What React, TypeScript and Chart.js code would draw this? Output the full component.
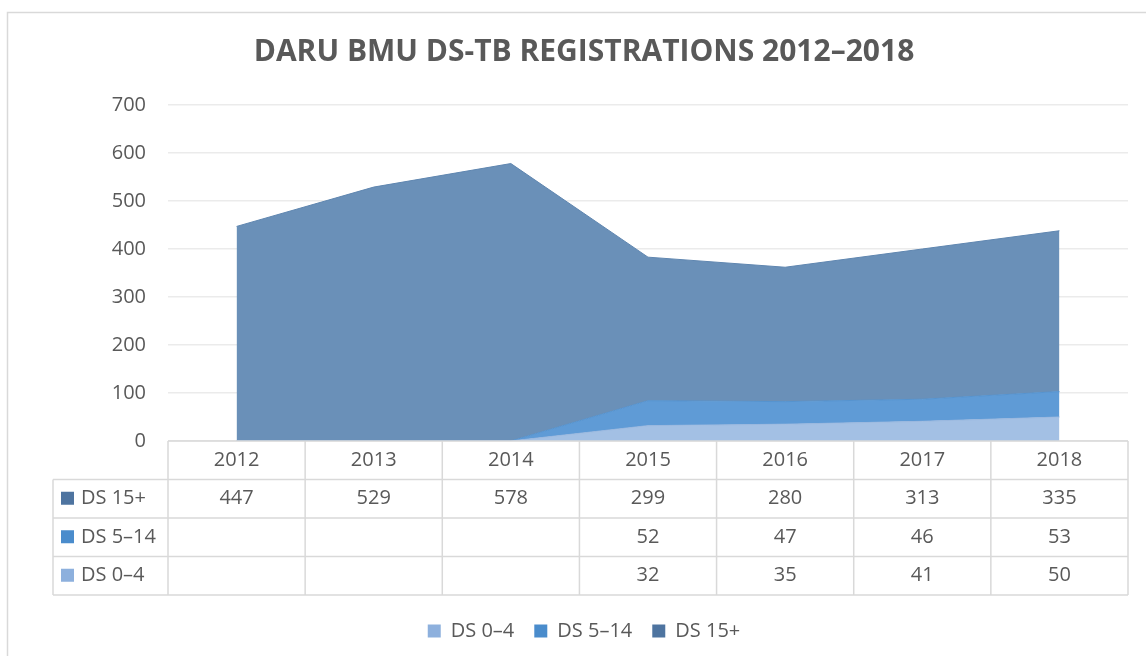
import React, { useEffect, useRef } from "react";
import { Chart, registerables } from "chart.js";

Chart.register(...registerables);

const FONT = "'Open Sans', sans-serif";
const TEXT = "#595959";

const categories = ["2012", "2013", "2014", "2015", "2016", "2017", "2018"];
const ds04: (number | null)[] = [null, null, null, 32, 35, 41, 50];
const ds514: (number | null)[] = [null, null, null, 52, 47, 46, 53];
const ds15: (number | null)[] = [447, 529, 578, 299, 280, 313, 335];
const seriesNames = ["DS 0–4", "DS 5–14", "DS 15+"];
const yMax = 700;
const yStep = 100;

const fillColors = ["#a3c0e4", "#5f9bd6", "#6a90b8"];
const borderColors = ["#9ab8df", "#5593cf", "#5f86b0"];
const keyColors = ["#8db0dd", "#4a8ccc", "#4e74a0"];

const PAD_LEFT = 40;
const PLOT_LEFT = 168;

const frameAndTable = {
  id: "frameAndTable",
  beforeDraw(chart: any) {
    const { ctx, width, height } = chart;
    ctx.save();
    ctx.fillStyle = "#ffffff";
    ctx.fillRect(0, 0, width, height);
    ctx.strokeStyle = "#d9d9d9";
    ctx.lineWidth = 1.5;
    ctx.strokeRect(7.5, 12.5, width + 20, height + 20);
    ctx.restore();
  },
  afterDraw(chart: any) {
    const { ctx, chartArea } = chart;
    const xs = chart.scales.x;
    const n = categories.length;
    const colW = (chartArea.right - chartArea.left) / n;
    const top = chartArea.bottom;
    const rowH = 38.5;
    const leftX = 53;
    const rows = [
      { name: seriesNames[2], data: ds15, key: keyColors[2] },
      { name: seriesNames[1], data: ds514, key: keyColors[1] },
      { name: seriesNames[0], data: ds04, key: keyColors[0] },
    ];
    const bottom = top + rowH * (rows.length + 1);
    ctx.save();
    ctx.strokeStyle = "#d9d9d9";
    ctx.lineWidth = 1.5;
    ctx.beginPath();
    for (let r = 0; r <= rows.length + 1; r++) {
      const y = top + r * rowH;
      ctx.moveTo(r === 0 ? chartArea.left : leftX, y);
      ctx.lineTo(chartArea.right, y);
    }
    for (let i = 0; i <= n; i++) {
      const x = i < n ? xs.getPixelForValue(i) - colW / 2 : xs.getPixelForValue(n - 1) + colW / 2;
      ctx.moveTo(x, top);
      ctx.lineTo(x, bottom);
    }
    ctx.moveTo(leftX, top + rowH);
    ctx.lineTo(leftX, bottom);
    ctx.stroke();

    ctx.fillStyle = TEXT;
    ctx.font = `20px ${FONT}`;
    ctx.textAlign = "center";
    ctx.textBaseline = "middle";
    categories.forEach((c, i) => {
      ctx.fillText(c, xs.getPixelForValue(i), top + rowH / 2);
    });
    rows.forEach((row, r) => {
      const cy = top + rowH * (r + 1) + rowH / 2;
      row.data.forEach((v, i) => {
        if (v !== null) {
          ctx.fillStyle = TEXT;
          ctx.textAlign = "center";
          ctx.fillText(String(v), xs.getPixelForValue(i), cy);
        }
      });
      ctx.fillStyle = row.key;
      ctx.fillRect(61, cy - 7, 13, 13);
      ctx.fillStyle = TEXT;
      ctx.textAlign = "left";
      ctx.fillText(row.name, 81, cy);
    });
    ctx.restore();
  },
};

export default function App() {
  const ref = useRef<HTMLCanvasElement | null>(null);
  useEffect(() => {
    if (!ref.current) return;
    const series = [ds04, ds514, ds15];
    const chart = new Chart(ref.current, {
      type: "line",
      data: {
        labels: categories,
        datasets: series.map((d, k) => ({
          label: seriesNames[k],
          data: d.map((v) => (v === null ? 0 : v)),
          backgroundColor: fillColors[k],
          borderColor: borderColors[k],
          borderWidth: 1,
          pointRadius: 0,
          tension: 0,
          fill: k === 0 ? "origin" : "-1",
        })),
      },
      options: {
        animation: false,
        responsive: true,
        maintainAspectRatio: false,
        layout: { padding: { left: PAD_LEFT, right: 18, top: 0, bottom: 5 } },
        plugins: {
          title: {
            display: true,
            text: "DARU BMU DS-TB REGISTRATIONS 2012–2018",
            color: TEXT,
            font: { size: 30, weight: "bold", family: FONT },
            padding: { top: 34, bottom: 35 },
          },
          legend: {
            position: "bottom",
            labels: {
              color: TEXT,
              boxWidth: 13,
              boxHeight: 13,
              padding: 20,
              font: { size: 20, family: FONT },
              generateLabels: (chart: any) =>
                chart.data.datasets.map((ds: any, i: number) => ({
                  text: ds.label,
                  fillStyle: keyColors[i],
                  strokeStyle: keyColors[i],
                  lineWidth: 0,
                  fontColor: TEXT,
                  datasetIndex: i,
                  hidden: false,
                })),
            },
          },
          tooltip: { enabled: false },
        },
        scales: {
          x: {
            offset: true,
            grid: { display: false },
            border: { display: false },
            ticks: { display: false },
            afterFit: (s: any) => {
              s.height = 160;
            },
          },
          y: {
            stacked: true,
            min: 0,
            max: yMax,
            ticks: { stepSize: yStep, color: TEXT, font: { size: 20, family: FONT }, padding: 22 },
            grid: { color: "#ebebeb", lineWidth: 1.5, drawTicks: false },
            border: { display: false },
            afterFit: (s: any) => {
              s.width = PLOT_LEFT - PAD_LEFT;
            },
          },
        },
      },
      plugins: [frameAndTable],
    });
    return () => chart.destroy();
  }, []);
  return (
    <div style={{ position: "fixed", left: 0, top: 0, width: 1146, height: 656 }}>
      <canvas ref={ref} />
    </div>
  );
}
